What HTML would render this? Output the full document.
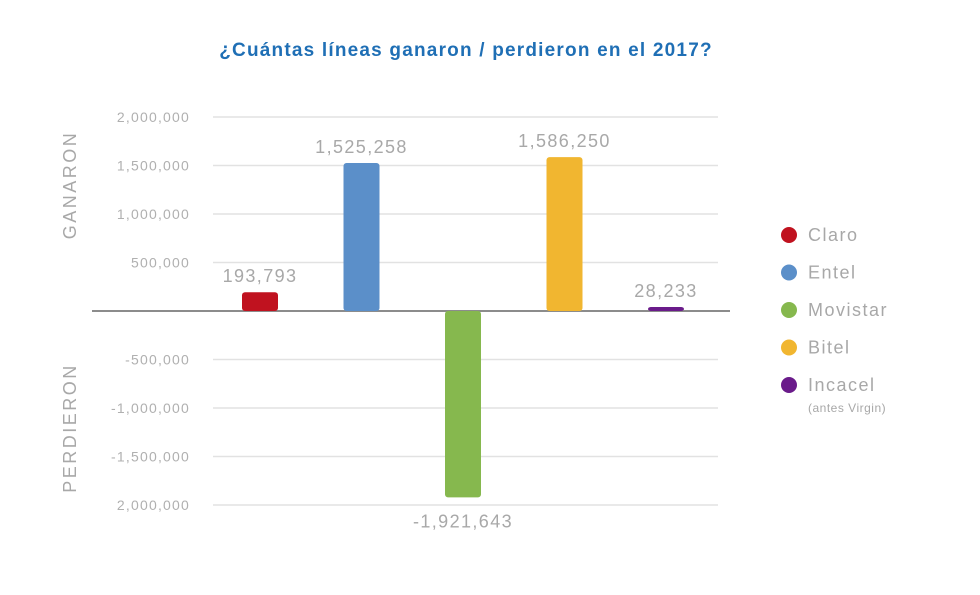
<!DOCTYPE html>
<html><head><meta charset="utf-8"><style>
body{margin:0;background:#fff;width:980px;height:590px;overflow:hidden;font-family:"Liberation Sans",sans-serif}
</style></head><body>
<svg id="c" width="980" height="590">
<text x="466" y="56" text-anchor="middle" font-size="19" font-weight="bold" letter-spacing="1.2" fill="#1f6fb5">¿Cuántas líneas ganaron / perdieron en el 2017?</text>
<text transform="translate(76,185) rotate(-90)" text-anchor="middle" font-size="18" fill="#a8a8a8" letter-spacing="2.5">GANARON</text>
<text transform="translate(76,428) rotate(-90)" text-anchor="middle" font-size="18" fill="#a8a8a8" letter-spacing="2.5">PERDIERON</text>
<g id="grid"></g><g id="bars"></g><g id="legend"></g>
</svg>
<script>
const categories=["Claro","Entel","Movistar","Bitel","Incacel"];
const values=[193793,1525258,-1921643,1586250,28233];
const valueLabels=["193,793","1,525,258","-1,921,643","1,586,250","28,233"];
const colors=["#c0121f","#5b8fc9","#86b84e","#f1b630","#6a1b8a"];
const ticks=[2000000,1500000,1000000,500000,-500000,-1000000,-1500000,-2000000];
const tickLabels=["2,000,000","1,500,000","1,000,000","500,000","-500,000","-1,000,000","-1,500,000","2,000,000"];
const NS="http://www.w3.org/2000/svg";
const y0=311,k=48.5/500000;
const y=v=>y0-v*k;
const x=i=>260+i*101.5;
function mk(t,a,p){const e=document.createElementNS(NS,t);for(const n in a)e.setAttribute(n,a[n]);p.appendChild(e);return e;}
const g=document.getElementById('grid');
ticks.forEach((t,i)=>{
 const l=mk('line',{x1:213,x2:718,y1:y(t),y2:y(t),stroke:'#e2e2e2','stroke-width':1.5},g);
 
 
 const tx=mk('text',{x:190,y:y(t)+5,'text-anchor':'end','font-size':14,'letter-spacing':1.2,fill:'#b0b0b0'},g);
 tx.textContent=tickLabels[i];
 
 
});
const ax=mk('line',{x1:92,x2:730,y1:y0,y2:y0,stroke:'#8c8c8c','stroke-width':2},g);


const b=document.getElementById('bars');
values.forEach((v,i)=>{
 const h=Math.max(Math.abs(y(v)-y0),4);
 const r=mk('rect',{x:x(i)-18,y:v>=0?y0-h:y0,width:36,height:h,rx:3,fill:colors[i]},b);
 
 
 const ly=v>=0?y0-h-10:y0+h+30;
 const t=mk('text',{x:x(i),y:ly,'text-anchor':'middle','font-size':18,'letter-spacing':1.4,fill:'#a8a8a8'},b);
 t.textContent=valueLabels[i];
 
 
});
const lg=document.getElementById('legend');
categories.forEach((c,i)=>{
 const cy=235+i*37.5;
 const d=mk('circle',{cx:789,cy:cy,r:8,fill:colors[i]},lg);
 
 
 const t=mk('text',{x:808,y:cy+6,'font-size':18,'letter-spacing':1.5,fill:'#a8a8a8'},lg);
 t.textContent=c;
 
 
});
const s=mk('text',{x:808,y:412,'font-size':12,'letter-spacing':0.5,fill:'#a8a8a8'},lg);
s.textContent="(antes Virgin)";


</script>
</body></html>
